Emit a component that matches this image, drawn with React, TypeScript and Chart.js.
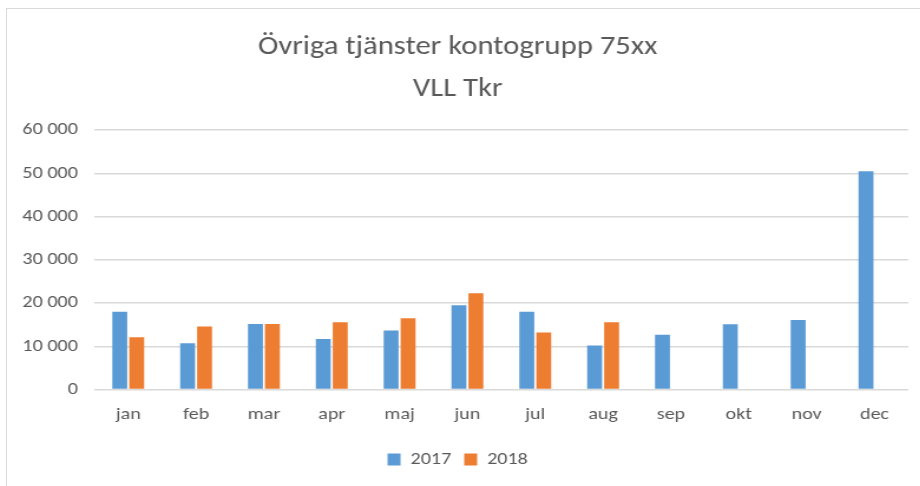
import React, { useEffect, useRef } from "react";
import { Chart, registerables } from "chart.js";

Chart.register(...registerables);

const months = ["jan", "feb", "mar", "apr", "maj", "jun", "jul", "aug", "sep", "okt", "nov", "dec"];
const values2017 = [18000, 10700, 15200, 11700, 13700, 19500, 18000, 10200, 12700, 15100, 16100, 50500];
const values2018: (number | null)[] = [12100, 14600, 15200, 15600, 16500, 22300, 13200, 15600, null, null, null, null];
const titleLines = ["Övriga tjänster kontogrupp 75xx", "VLL Tkr"];
const seriesNames = ["2017", "2018"];

const FONT = "Carlito, 'Open Sans', sans-serif";
const TEXT = "#595959";
const CANVAS_W = 773;
const CANVAS_H = 477;
const STRETCH = 912 / CANVAS_W;

function fmt(v: number): string {
  return String(Math.round(v)).replace(/\B(?=(\d{3})+(?!\d))/g, " ");
}

export default function App() {
  const ref = useRef<HTMLCanvasElement | null>(null);
  useEffect(() => {
    if (!ref.current) return;
    const chart = new Chart(ref.current, {
      type: "bar",
      data: {
        labels: months,
        datasets: [
          {
            label: seriesNames[0],
            data: values2017,
            backgroundColor: "#5B9BD5",
            categoryPercentage: 0.5,
            barPercentage: 0.88,
          },
          {
            label: seriesNames[1],
            data: values2018,
            backgroundColor: "#ED7D31",
            categoryPercentage: 0.5,
            barPercentage: 0.88,
          },
        ],
      },
      options: {
        animation: false,
        responsive: false,
        maintainAspectRatio: false,
        devicePixelRatio: 1,
        layout: { padding: { left: 0, right: 9, top: 0, bottom: 8 } },
        plugins: {
          title: {
            display: true,
            text: titleLines,
            color: TEXT,
            font: { family: FONT, size: 26, weight: "normal", lineHeight: 1.62 },
            padding: { top: 17, bottom: 20 },
          },
          legend: {
            position: "bottom",
            labels: {
              color: TEXT,
              font: { family: FONT, size: 17 },
              boxWidth: 11,
              boxHeight: 12,
              padding: 11,
            },
          },
          tooltip: { enabled: false },
        },
        scales: {
          x: {
            grid: { display: false, drawTicks: false },
            border: { display: false },
            ticks: { color: TEXT, font: { family: FONT, size: 17 }, padding: 15 },
          },
          y: {
            min: 0,
            max: 60000,
            grid: { color: "#d9d9d9", lineWidth: 1.5, drawTicks: false },
            border: { display: false },
            ticks: {
              stepSize: 10000,
              color: TEXT,
              font: { family: FONT, size: 17 },
              padding: 14,
              callback: (v: any) => fmt(Number(v)),
            },
            afterFit: (s: any) => {
              s.width = 74;
            },
          },
        },
      },
    });
    return () => chart.destroy();
  }, []);

  return (
    <div style={{ position: "fixed", left: 0, top: 0, width: 920, height: 486, background: "#fff", overflow: "hidden" }}>
      <div
        style={{
          position: "absolute",
          left: 6,
          top: 8,
          width: 914,
          height: 478,
          borderLeft: "1px solid #d9d9d9",
          borderTop: "1px solid #d9d9d9",
        }}
      >
        <canvas
          ref={ref}
          width={CANVAS_W}
          height={CANVAS_H}
          style={{ display: "block", transform: `scaleX(${STRETCH})`, transformOrigin: "0 0" }}
        />
      </div>
    </div>
  );
}
